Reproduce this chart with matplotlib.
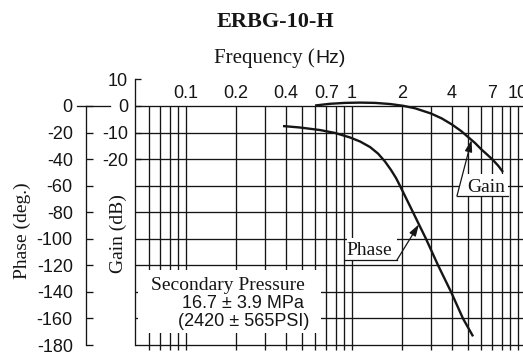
import numpy as np
import matplotlib
matplotlib.use("Agg")
import matplotlib.pyplot as plt
from matplotlib.lines import Line2D
from matplotlib.patches import Rectangle, FancyArrowPatch
from matplotlib.transforms import IdentityTransform
from matplotlib.ticker import NullLocator, FixedLocator

# ---------------- data ----------------
gain_freq = [0.599, 0.737, 0.907, 1.117, 1.376, 1.694, 2.03, 2.40, 2.99, 3.48, 4.00,
             4.54, 5.00, 5.51, 5.98, 6.51, 6.97, 7.58, 8.12]
gain_db = [0.19, 0.83, 1.17, 1.28, 1.17, 0.75, 0.08, -0.87, -2.82, -4.71, -6.97,
           -9.41, -11.67, -13.93, -16.19, -18.27, -19.96, -22.4, -24.85]

phase_freq = [0.384, 0.486, 0.641, 0.790, 0.973, 1.117, 1.284, 1.434, 1.580, 1.718,
              1.841, 1.946, 2.33, 2.79, 3.30, 3.95, 4.66, 5.36]
phase_deg = [-15.1, -16.2, -18.1, -20.3, -23.7, -26.7, -30.9, -35.8, -41.8, -48.2,
             -54.2, -60.1, -80, -100, -120, -140, -160, -173.5]

freq_ticks = [0.1, 0.2, 0.4, 0.7, 1, 2, 4, 7, 10]
freq_tick_labels = ["0.1", "0.2", "0.4", "0.7", "1", "2", "4", "7", "10"]
grid_freqs = [0.06, 0.07, 0.08, 0.09, 0.1, 0.2, 0.3, 0.4, 0.5, 0.6, 0.7, 0.8, 0.9,
              1, 2, 3, 4, 5, 6, 7, 8, 9, 10]
phase_ticks = [0, -20, -40, -60, -80, -100, -120, -140, -160, -180]
gain_ticks = [10, 0, -10, -20]

title = "ERBG-10-H"
gain_tip_freq = 5.25
phase_tip_freq = 2.53

# ---------------- layout ----------------
W, H, DPI = 523, 356, 100
SANS = "Liberation Sans"
SERIF = "Liberation Serif"
INK = "#151515"

fig = plt.figure(figsize=(W / DPI, H / DPI), dpi=DPI)
fig.patch.set_facecolor("white")

y0 = 106.0                 # pixel row of phase 0
k = 239.0 / 180.0          # pixels per degree
top = y0 - 20 * k
bot = y0 + 185 * k
left, right = 135.0, 523.0
ax = fig.add_axes([left / W, 1 - bot / H, (right - left) / W, (bot - top) / H])

f_left = 10 ** ((left - 352) / 166.0)
f_right = 10 ** ((right - 352) / 166.0)
ax.set_xscale("log")
ax.set_xlim(f_left, f_right)
ax.set_ylim(-185, 20)
ax.patch.set_alpha(0)

# grid
ax.hlines(phase_ticks, f_left, f_right, color=INK, lw=0.95, zorder=1)
ax.vlines(grid_freqs, -184, 0, color=INK, lw=0.95, zorder=1)

# phase curve
ax.plot(phase_freq, phase_deg, color=INK, lw=1.7, zorder=4,
        solid_capstyle="butt", solid_joinstyle="round")

# phase axis (left, offset)
for s in ["top", "right", "bottom"]:
    ax.spines[s].set_visible(False)
ax.spines["left"].set_position(("outward", (left - 86) * 72 / DPI))
ax.spines["left"].set_bounds(-180, 0)
ax.spines["left"].set_linewidth(0.95)
ax.spines["left"].set_color(INK)
ax.yaxis.set_major_locator(FixedLocator(phase_ticks))
ax.set_yticklabels([str(t) for t in phase_ticks])
ax.tick_params(axis="y", direction="in", length=5, width=0.95, color=INK,
               pad=9.5, labelsize=13, labelcolor=INK)
for lab in ax.get_yticklabels():
    lab.set_fontfamily(SANS)

# frequency labels on top
ax.xaxis.set_ticks_position("top")
ax.xaxis.set_minor_locator(NullLocator())
ax.set_xticks(freq_ticks)
ax.set_xticklabels(freq_tick_labels)
ax.tick_params(axis="x", length=0, pad=-16, labelsize=13, labelcolor=INK)
for lab in ax.get_xticklabels():
    lab.set_fontfamily(SANS)

# gain axis
axg = ax.twinx()
axg.set_ylim(-92.5, 10)
axg.patch.set_alpha(0)
for s in ["top", "right", "bottom"]:
    axg.spines[s].set_visible(False)
axg.spines["left"].set_visible(True)
axg.spines["left"].set_bounds(-90, 10)
axg.spines["left"].set_linewidth(0.95)
axg.spines["left"].set_color(INK)
axg.yaxis.tick_left()
axg.yaxis.set_major_locator(FixedLocator(gain_ticks))
axg.set_yticklabels([str(t) for t in gain_ticks])
axg.tick_params(axis="y", direction="in", length=4, width=0.95, color=INK,
                pad=5, labelsize=13, labelcolor=INK)
for lab in axg.get_yticklabels():
    lab.set_fontfamily(SANS)

axg.plot(gain_freq, gain_db, color=INK, lw=1.7, zorder=4,
         solid_capstyle="butt", solid_joinstyle="round")

# ---------------- texts ----------------
def fx(x):
    return x / W

def fy(y):
    return 1 - y / H

fig.text(fx(275), fy(27), title, ha="center", va="baseline", fontsize=16,
         fontweight="bold", family=SERIF, color=INK)
fig.text(fx(315), fy(63), "Frequency (", ha="right", va="baseline", fontsize=15,
         family=SERIF, color=INK)
fig.text(fx(315), fy(63), "Hz)", ha="left", va="baseline", fontsize=14,
         family=SANS, color=INK)
fig.text(fx(22), fy(231), "Phase (deg.)", ha="center", va="center", rotation=90,
         fontsize=14, family=SERIF, color=INK)
fig.text(fx(118), fy(234), "Gain (dB)", ha="center", va="center", rotation=90,
         fontsize=14, family=SERIF, color=INK)

# phase zero connector line
fig.add_artist(Line2D([fx(77), fx(110)], [fy(106), fy(106)], color=INK, lw=0.95))

# pressure box
fig.add_artist(Rectangle((fx(138), fy(333)), (321 - 138) / W, (333 - 270) / H,
                         facecolor="white", edgecolor="none", zorder=2))
fig.text(fx(151), fy(285), "Secondary Pressure", ha="left", va="center", fontsize=14,
         family=SERIF, color=INK, zorder=3)
fig.text(fx(243), fy(303), "16.7 \u00b1 3.9 MPa", ha="center", va="center", fontsize=13,
         family=SANS, color=INK, zorder=3)
fig.text(fx(244), fy(322), "(2420 \u00b1 565PSI)", ha="center", va="center", fontsize=13,
         family=SANS, color=INK, zorder=3)

# ---------------- annotations ----------------
def interp_log(fq, xs, ys):
    return float(np.interp(np.log10(fq), np.log10(xs), ys))

gain_tip = axg.transData.transform((gain_tip_freq, interp_log(gain_tip_freq, gain_freq, gain_db)))
phase_tip = ax.transData.transform((phase_tip_freq, interp_log(phase_tip_freq, phase_freq, phase_deg)))


def callout(tip, start, under_end, text_pos, label, box_h=22):
    tx, ty = tip
    sx, sy = tx + start[0], ty - start[1]
    ux = tx + under_end[0]
    x0, x1 = min(sx, ux), max(sx, ux)
    fig.add_artist(Rectangle((x0 + 2, sy), x1 - x0 - 2, box_h, facecolor="white",
                             edgecolor="none", zorder=2, transform=IdentityTransform()))
    fig.add_artist(Line2D([sx, ux], [sy, sy], color=INK, lw=0.9, zorder=3,
                          transform=IdentityTransform()))
    arr = FancyArrowPatch((sx, sy), (tx, ty), arrowstyle="-|>,head_length=0.7,head_width=0.22",
                          mutation_scale=10, color=INK, lw=0.9, shrinkA=0, shrinkB=0,
                          zorder=3, transform=IdentityTransform())
    fig.add_artist(arr)
    fig.text(tx + text_pos[0], ty - text_pos[1], label, ha="center", va="center",
             fontsize=14, family=SERIF, color=INK, zorder=4, transform=IdentityTransform())

callout(gain_tip, (-14.6, 56), (36.4, 56), (14.4, 47), "Gain")
callout(phase_tip, (-22, 35.7), (-74, 35.7), (-50, 25.7), "Phase")

fig.savefig("out.png", dpi=DPI)
